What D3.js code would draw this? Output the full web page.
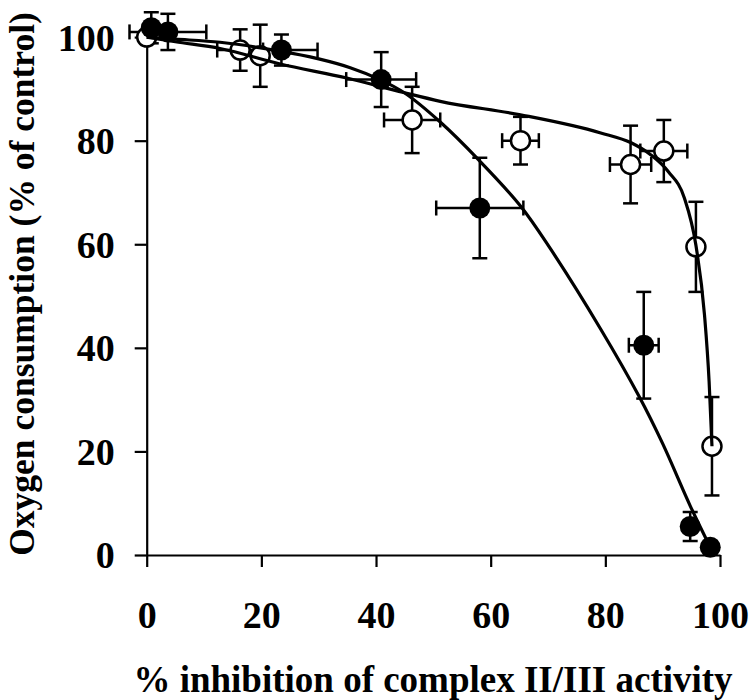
<!DOCTYPE html>
<html>
<head>
<meta charset="utf-8">
<script src="https://cdn.jsdelivr.net/npm/d3@7"></script>
<style>
  html, body { margin: 0; padding: 0; background: #fff; }
  svg { display: block; }
</style>
</head>
<body>
<svg id="chart" width="750" height="700"></svg>
<script>
// ---- data ----
const xTicks = [0, 20, 40, 60, 80, 100];
const yTicks = [0, 20, 40, 60, 80, 100];

// filled circles: x (% inhibition), y (oxygen consumption), x error, y error
const filledX    = [0.8, 3.7, 23.5, 40.9, 58.1, 86.7, 94.8, 98.3];
const filledY    = [101.8, 101.0, 97.5, 91.8, 67.0, 40.5, 5.5, 1.5];
const filledXErr = [0, 6.7, 6.3, 6.1, 7.6, 2.6, 0, 0];
const filledYErr = [3.0, 3.5, 3.0, 5.3, 9.7, 10.3, 2.8, 0];

// open circles
const openX    = [0, 16.3, 19.8, 46.3, 65.2, 84.4, 90.2, 95.8, 98.6];
const openY    = [100, 97.5, 96.4, 84.0, 80.0, 75.4, 78.0, 59.5, 21.0];
const openXErr = [0, 4.0, 0, 4.9, 3.2, 3.6, 4.1, 0, 0];
const openYErr = [0, 4.0, 6.0, 6.4, 4.6, 7.5, 6.0, 8.7, 9.5];

// fitted curves
const filledCurveX = [0, 5, 12.8, 23.3, 30, 35.5, 40.9, 45, 51.2, 57.9, 65.2, 70.5, 79.2, 85.9, 90, 94.8, 98.3];
const filledCurveY = [100, 99.6, 99.0, 97.3, 95.8, 94.1, 91.7, 89.2, 83.6, 76.3, 67.4, 59.0, 43.6, 30.6, 21.5, 9.5, 1.5];
const openCurveX = [0, 5, 12.8, 23.3, 34.9, 44.8, 51.2, 65.2, 79.2, 84.5, 87.9, 91, 93.8, 95.8, 97.3, 98.1, 98.6];
const openCurveY = [100, 99.1, 97.8, 94.8, 92.1, 89.3, 87.6, 85.0, 81.5, 79.6, 77.3, 74.0, 68.9, 59.8, 46.3, 33.5, 21.0];

const xTitle = "% inhibition of complex II/III activity";
const yTitle = "Oxygen consumption (% of control)";

// ---- drawing ----
const svg = d3.select("#chart");
const FONT = "'Liberation Serif', 'Times New Roman', serif";

const x = d3.scaleLinear().domain([0, 100]).range([146.7, 720]);
const y = d3.scaleLinear().domain([0, 100]).range([555, 37.1]);

// axes
const xAxis = d3.axisBottom(x).tickValues(xTicks).tickSize(12).tickSizeOuter(0).tickPadding(34);
const yAxis = d3.axisLeft(y).tickValues(yTicks).tickSize(12).tickSizeOuter(0).tickPadding(20);

const gx = svg.append("g").attr("transform", `translate(0,${y(0)})`).call(xAxis);
const gy = svg.append("g").attr("transform", `translate(${x(0)},0)`).call(yAxis);

[gx, gy].forEach(g => {
  g.select(".domain").attr("stroke", "#000").attr("stroke-width", 2.2);
  g.selectAll(".tick line").attr("stroke", "#000").attr("stroke-width", 2.2);
  g.selectAll(".tick text")
    .attr("fill", "#000")
    .style("font-family", FONT)
    .style("font-weight", "bold")
    .style("font-size", "38px");
});
gx.selectAll(".tick text").attr("dy", "0.71em");
gy.selectAll(".tick text").attr("dy", "0.34em");

// axis titles
svg.append("text")
  .attr("x", 433).attr("y", 692)
  .attr("text-anchor", "middle")
  .style("font-family", FONT).style("font-weight", "bold").style("font-size", "37px")
  .text(xTitle);

svg.append("text")
  .attr("transform", `translate(34,284) rotate(-90)`)
  .attr("text-anchor", "middle")
  .style("font-family", FONT).style("font-weight", "bold").style("font-size", "35.5px")
  .text(yTitle);

// build point tables
const filled = filledX.map((v, i) => ({x: v, y: filledY[i], ex: filledXErr[i], ey: filledYErr[i]}));
const open = openX.map((v, i) => ({x: v, y: openY[i], ex: openXErr[i], ey: openYErr[i]}));

const CAP = 7.5;
function drawErrors(data) {
  const g = svg.append("g").attr("stroke", "#000").attr("stroke-width", 2.5).attr("fill", "none");
  data.forEach(d => {
    if (d.ey > 0) {
      g.append("line").attr("x1", x(d.x)).attr("x2", x(d.x)).attr("y1", y(d.y - d.ey)).attr("y2", y(d.y + d.ey));
      [d.y - d.ey, d.y + d.ey].forEach(v => {
        g.append("line").attr("x1", x(d.x) - CAP).attr("x2", x(d.x) + CAP).attr("y1", y(v)).attr("y2", y(v));
      });
    }
    if (d.ex > 0) {
      g.append("line").attr("x1", x(d.x - d.ex)).attr("x2", x(d.x + d.ex)).attr("y1", y(d.y)).attr("y2", y(d.y));
      [d.x - d.ex, d.x + d.ex].forEach(v => {
        g.append("line").attr("x1", x(v)).attr("x2", x(v)).attr("y1", y(d.y) - CAP).attr("y2", y(d.y) + CAP);
      });
    }
  });
}
drawErrors(open);
drawErrors(filled);

svg.append("g").selectAll("circle").data(open).join("circle")
  .attr("cx", d => x(d.x)).attr("cy", d => y(d.y)).attr("r", 9.5)
  .attr("fill", "#fff").attr("stroke", "#000").attr("stroke-width", 2.5);

svg.append("g").selectAll("circle").data(filled).join("circle")
  .attr("cx", d => x(d.x)).attr("cy", d => y(d.y)).attr("r", 10.5)
  .attr("fill", "#000");

// curves
const lineSmooth = d3.line().x(d => x(d[0])).y(d => y(d[1])).curve(d3.curveCatmullRom.alpha(0.5));
const lineMono = d3.line().x(d => x(d[0])).y(d => y(d[1])).curve(d3.curveMonotoneX);
svg.append("path")
  .datum(filledCurveX.map((v, i) => [v, filledCurveY[i]]))
  .attr("d", lineSmooth).attr("fill", "none").attr("stroke", "#000").attr("stroke-width", 3.2);
svg.append("path")
  .datum(openCurveX.map((v, i) => [v, openCurveY[i]]))
  .attr("d", lineMono).attr("fill", "none").attr("stroke", "#000").attr("stroke-width", 3.2);
</script>
</body>
</html>
